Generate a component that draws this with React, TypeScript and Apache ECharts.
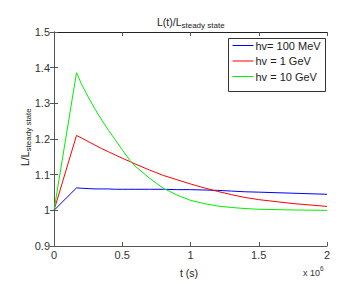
import React, { useEffect, useRef } from "react";
import * as echarts from "echarts";

const times = [0, 0.165e6, 0.2e6, 0.25e6, 0.3e6, 0.35e6, 0.4e6, 0.45e6, 0.5e6, 0.555e6, 0.6e6, 0.7e6, 0.8e6, 0.9e6, 1.0e6, 1.1e6, 1.2e6, 1.3e6, 1.4e6, 1.5e6, 1.75e6, 2.0e6];
const blue100MeV = [1.0, 1.063, 1.062, 1.061, 1.060, 1.060, 1.060, 1.059, 1.059, 1.059, 1.059, 1.059, 1.059, 1.058, 1.058, 1.057, 1.056, 1.054, 1.052, 1.051, 1.048, 1.045];
const red1GeV = [1.0, 1.21, 1.203, 1.193, 1.183, 1.173, 1.164, 1.155, 1.146, 1.137, 1.129, 1.113, 1.098, 1.086, 1.074, 1.063, 1.053, 1.044, 1.036, 1.030, 1.019, 1.011];
const green10GeV = [1.0, 1.386, 1.355, 1.318, 1.284, 1.253, 1.224, 1.197, 1.170, 1.140, 1.122, 1.090, 1.062, 1.043, 1.028, 1.019, 1.012, 1.008, 1.005, 1.003, 1.001, 1.000];
const seriesNames = ["hv= 100 MeV", "hv = 1 GeV", "hv = 10 GeV"];
const seriesColors = ["#0000ff", "#ff0000", "#00f000"];
const xTicks = { min: 0, max: 2e6, interval: 0.5e6 };
const yTicks = { min: 0.9, max: 1.5, interval: 0.1 };

const FONT = "Liberation Sans";

export default function App() {
  const ref = useRef<HTMLDivElement>(null);
  useEffect(() => {
    if (!ref.current) return;
    const chart = echarts.init(ref.current, null, { renderer: "svg" });
    const all = [blue100MeV, red1GeV, green10GeV];
    const axisColor = "#555";
    const labelColor = "#333";
    chart.setOption({
      animation: false,
      textStyle: { fontFamily: FONT },
      grid: { left: 54, right: 27, top: 32, bottom: 46, show: false },
      legend: {
        orient: "vertical",
        left: 232,
        top: 39,
        padding: 0,
        itemWidth: 21,
        itemHeight: 1,
        itemGap: 2.5,
        z: 10,
        lineStyle: { width: 1 },
        textStyle: { fontFamily: FONT, fontSize: 11, lineHeight: 13, color: "#222", padding: [0, 0, 0, -3] },
        data: seriesNames,
      },
      xAxis: [
        {
          type: "value",
          min: xTicks.min,
          max: xTicks.max,
          interval: xTicks.interval,
          axisLine: { show: true, lineStyle: { color: axisColor, width: 1 } },
          axisTick: { show: true, inside: true, length: 4, lineStyle: { color: axisColor } },
          axisLabel: {
            fontSize: 11,
            color: labelColor,
            margin: 3,
            formatter: (v: number) => String(Math.round((v / 1e6) * 10) / 10),
          },
          splitLine: { show: false },
        },
        {
          type: "value",
          position: "top",
          min: xTicks.min,
          max: xTicks.max,
          interval: xTicks.interval,
          axisLine: { show: true, lineStyle: { color: "#222", width: 1 } },
          axisTick: { show: true, inside: true, length: 4, lineStyle: { color: axisColor } },
          axisLabel: { show: false },
          splitLine: { show: false },
        },
      ],
      yAxis: [
        {
          type: "value",
          min: yTicks.min,
          max: yTicks.max,
          interval: yTicks.interval,
          axisLine: { show: true, lineStyle: { color: axisColor, width: 1 } },
          axisTick: { show: true, inside: true, length: 4, lineStyle: { color: axisColor } },
          axisLabel: {
            fontSize: 11,
            color: labelColor,
            margin: 4,
            formatter: (v: number) => String(Math.round(v * 10) / 10),
          },
          splitLine: { show: false },
        },
        {
          type: "value",
          position: "right",
          min: yTicks.min,
          max: yTicks.max,
          interval: yTicks.interval,
          axisLine: { show: true, lineStyle: { color: axisColor, width: 1 } },
          axisTick: { show: true, inside: true, length: 4, lineStyle: { color: axisColor } },
          axisLabel: { show: false },
          splitLine: { show: false },
        },
      ],
      series: all.map((vals, i) => ({
        name: seriesNames[i],
        type: "line",
        xAxisIndex: 0,
        yAxisIndex: 0,
        symbol: "none",
        showSymbol: false,
        lineStyle: { color: seriesColors[i], width: 1 },
        itemStyle: { color: seriesColors[i] },
        data: times.map((t, j) => [t, vals[j]]),
      })),
      graphic: [
        {
          type: "rect",
          z: 5,
          shape: { x: 228.5, y: 38.5, width: 97, height: 53 },
          style: { fill: "#fff", stroke: "#333", lineWidth: 1 },
        },
        {
          type: "text",
          left: 157,
          top: 14,
          style: {
            text: "{a|L(t)/L}{b|steady state}",
            rich: {
              a: { fontFamily: FONT, fontSize: 10.5, fill: "#222", lineHeight: 13 },
              b: { fontFamily: FONT, fontSize: 8, fill: "#222", lineHeight: 13, padding: [7, 0, 0, 0] },
            },
          },
        },
        {
          type: "text",
          x: 18,
          y: 166,
          rotation: Math.PI / 2,
          style: {
            text: "{a|L/L}{b|steady state}",
            rich: {
              a: { fontFamily: FONT, fontSize: 10.5, fill: "#222", lineHeight: 13 },
              b: { fontFamily: FONT, fontSize: 8, fill: "#222", lineHeight: 13, padding: [7, 0, 0, 0] },
            },
          },
        },
        {
          type: "text",
          left: 180,
          top: 267,
          style: { text: "t (s)", fontFamily: FONT, fontSize: 10.5, fill: "#222" },
        },
        {
          type: "text",
          left: 303,
          top: 264,
          style: {
            text: "{a|x 10}{b|6}",
            rich: {
              a: { fontFamily: FONT, fontSize: 9, fill: "#333", lineHeight: 12, padding: [4, 0, 0, 0] },
              b: { fontFamily: FONT, fontSize: 6.5, fill: "#333", lineHeight: 12, padding: [0, 0, 4, 0] },
            },
          },
        },
      ],
    });
    return () => chart.dispose();
  }, []);
  return (
    <div
      ref={ref}
      style={{ position: "absolute", left: 0, top: 0, width: 354, height: 292 }}
    />
  );
}
